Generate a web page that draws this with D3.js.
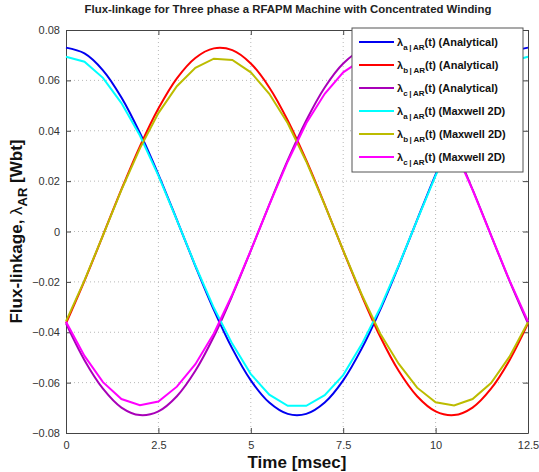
<!DOCTYPE html>
<html>
<head>
<meta charset="utf-8">
<script src="https://cdn.jsdelivr.net/npm/d3@7"></script>
<style>
  body { margin: 0; background: #fff; }
  svg { font-family: "Liberation Sans", Arial, sans-serif; }
</style>
</head>
<body>
<div id="chart"></div>
<script>
// time samples [msec]
var time = [0, 0.5, 1, 1.5, 2, 2.5, 3, 3.5, 4, 4.5, 5, 5.5, 6, 6.5, 7, 7.5, 8, 8.5, 9, 9.5, 10, 10.5, 11, 11.5, 12, 12.5];

// analytical flux-linkage [Wbt]
var aAnalytical = [0.0730, 0.0707, 0.0640, 0.0532, 0.0391, 0.0226, 0.0046, -0.0137, -0.0311, -0.0465, -0.0591, -0.0679, -0.0724,
                   -0.0724, -0.0679, -0.0591, -0.0465, -0.0311, -0.0137, 0.0046, 0.0226, 0.0391, 0.0532, 0.0640, 0.0707, 0.0730];
var bAnalytical = [-0.0365, -0.0196, -0.0015, 0.0167, 0.0338, 0.0488, 0.0608, 0.0689, 0.0727, 0.0720, 0.0667, 0.0572, 0.0441,
                   0.0283, 0.0107, -0.0076, -0.0254, -0.0417, -0.0553, -0.0654, -0.0714, -0.0729, -0.0699, -0.0624, -0.0511, -0.0365];
var cAnalytical = [-0.0365, -0.0511, -0.0624, -0.0699, -0.0729, -0.0714, -0.0654, -0.0553, -0.0417, -0.0254, -0.0076, 0.0107, 0.0283,
                   0.0441, 0.0572, 0.0667, 0.0720, 0.0727, 0.0689, 0.0608, 0.0488, 0.0338, 0.0167, -0.0015, -0.0196, -0.0365];

// Maxwell 2D flux-linkage [Wbt]
var aMaxwell = [0.0694, 0.0674, 0.0610, 0.0510, 0.0381, 0.0222, 0.0045, -0.0135, -0.0303, -0.0446, -0.0566, -0.0648, -0.0692,
                -0.0692, -0.0650, -0.0570, -0.0448, -0.0304, -0.0135, 0.0045, 0.0222, 0.0381, 0.0510, 0.0611, 0.0674, 0.0694];
var bMaxwell = [-0.0357, -0.0194, -0.0015, 0.0165, 0.0330, 0.0470, 0.0577, 0.0650, 0.0686, 0.0681, 0.0632, 0.0547, 0.0430,
                0.0278, 0.0106, -0.0075, -0.0250, -0.0405, -0.0525, -0.0620, -0.0678, -0.0691, -0.0665, -0.0602, -0.0497, -0.0360];
var cMaxwell = [-0.0358, -0.0494, -0.0598, -0.0665, -0.0690, -0.0675, -0.0616, -0.0527, -0.0405, -0.0250, -0.0075, 0.0106, 0.0278,
                0.0430, 0.0547, 0.0632, 0.0681, 0.0686, 0.0650, 0.0577, 0.0470, 0.0330, 0.0165, -0.0015, -0.0194, -0.0357];

var xTicks = [0, 2.5, 5, 7.5, 10, 12.5];
var yTicks = [-0.08, -0.06, -0.04, -0.02, 0, 0.02, 0.04, 0.06, 0.08];

var series = [
  {phase: "a", kind: "Analytical", values: aAnalytical, color: "#0000f0", smooth: true},
  {phase: "b", kind: "Analytical", values: bAnalytical, color: "#ff0000", smooth: true},
  {phase: "c", kind: "Analytical", values: cAnalytical, color: "#a800b8", smooth: true},
  {phase: "a", kind: "Maxwell 2D", values: aMaxwell, color: "#00ffff", smooth: false},
  {phase: "b", kind: "Maxwell 2D", values: bMaxwell, color: "#bcbc00", smooth: false},
  {phase: "c", kind: "Maxwell 2D", values: cMaxwell, color: "#ff00ff", smooth: false}
];

var margin = {top: 30, right: 11, bottom: 39, left: 66};
var width = 539 - margin.left - margin.right;
var height = 472 - margin.top - margin.bottom;

var svg = d3.select("#chart").append("svg")
            .attr("width", 539)
            .attr("height", 472)
            .append("g")
            .attr("transform", `translate(${margin.left},${margin.top})`);

var x = d3.scaleLinear().domain([0, 12.5]).range([0, width]);
var y = d3.scaleLinear().domain([-0.08, 0.08]).range([height, 0]);

// grid
svg.append("g").selectAll("line")
   .data(xTicks.slice(1, -1))
   .enter().append("line")
   .attr("x1", d => x(d)).attr("x2", d => x(d))
   .attr("y1", 0).attr("y2", height)
   .style("stroke", "#b8b8b8").style("stroke-dasharray", "1,3");
svg.append("g").selectAll("line")
   .data(yTicks.slice(1, -1))
   .enter().append("line")
   .attr("x1", 0).attr("x2", width)
   .attr("y1", d => y(d)).attr("y2", d => y(d))
   .style("stroke", "#b8b8b8").style("stroke-dasharray", "1,3");

// axes (ticks inside, box on all sides)
var fmtY = d => d === 0 ? "0" : d3.format(".2f")(d);
var fmtX = d => String(d);
function styleAxis(g) {
  g.selectAll("path").style("stroke", "#444");
  g.selectAll("line").style("stroke", "#444");
  g.selectAll("text").style("font-size", "11px").style("fill", "#333").style("font-family", "Liberation Sans, Arial, sans-serif");
}
svg.append("g").attr("transform", `translate(0,${height})`)
   .call(d3.axisBottom(x).tickValues(xTicks).tickFormat(fmtX).tickSizeInner(-5).tickSizeOuter(0).tickPadding(8))
   .call(styleAxis);
svg.append("g")
   .call(d3.axisTop(x).tickValues(xTicks).tickFormat("").tickSizeInner(-5).tickSizeOuter(0))
   .call(styleAxis);
svg.append("g")
   .call(d3.axisLeft(y).tickValues(yTicks).tickFormat(fmtY).tickSizeInner(-5).tickSizeOuter(0).tickPadding(6))
   .call(styleAxis);
svg.append("g").attr("transform", `translate(${width},0)`)
   .call(d3.axisRight(y).tickValues(yTicks).tickFormat("").tickSizeInner(-5).tickSizeOuter(0))
   .call(styleAxis);

// lines
series.forEach(function(s) {
  var line = d3.line()
               .x((d, i) => x(time[i]))
               .y(d => y(d))
               .curve(s.smooth ? d3.curveCatmullRom : d3.curveLinear);
  svg.append("path")
     .datum(s.values)
     .attr("d", line)
     .style("fill", "none")
     .style("stroke", s.color)
     .style("stroke-width", 2);
});

// legend
var legend = svg.append("g").attr("transform", "translate(286,-2)");
legend.append("rect")
      .attr("width", 171).attr("height", 144)
      .style("fill", "#fff").style("stroke", "#555").style("stroke-width", 1);
var rows = legend.selectAll(".legend")
      .data(series)
      .enter().append("g")
      .attr("class", "legend")
      .attr("transform", (d, i) => `translate(0,${14 + i * 23})`);
rows.append("line")
    .attr("x1", 7).attr("x2", 42)
    .style("stroke", d => d.color).style("stroke-width", 2);
var lt = rows.append("text")
    .attr("x", 45).attr("y", 4)
    .style("font-size", "11px").style("font-weight", 700).style("fill", "#111");
lt.append("tspan").text("λ");
lt.append("tspan").attr("dy", 4).style("font-size", "8px").text(d => d.phase + "\u2009|\u2009AR");
lt.append("tspan").attr("dy", -4).text(d => "(t) (" + d.kind + ")");

// title
svg.append("text")
   .attr("x", 222).attr("y", -17)
   .attr("text-anchor", "middle")
   .style("font-size", "11.4px").style("font-weight", 700).style("fill", "#222")
   .text("Flux-linkage for Three phase a RFAPM Machine with Concentrated Winding");

// x label
svg.append("text")
   .attr("x", width / 2).attr("y", height + 35)
   .attr("text-anchor", "middle")
   .style("font-size", "17px").style("font-weight", 700).style("fill", "#111")
   .text("Time [msec]");

// y label
var yl = svg.append("text")
   .attr("transform", `translate(${-44},${height / 2}) rotate(-90)`)
   .attr("text-anchor", "middle")
   .style("font-size", "17px").style("font-weight", 700).style("fill", "#111");
yl.append("tspan").text("Flux-linkage, ");
yl.append("tspan").style("font-weight", 400).text("λ");
yl.append("tspan").attr("dy", 5).style("font-size", "13px").text("AR");
yl.append("tspan").attr("dy", -5).text(" [Wbt]");
</script>
</body>
</html>
